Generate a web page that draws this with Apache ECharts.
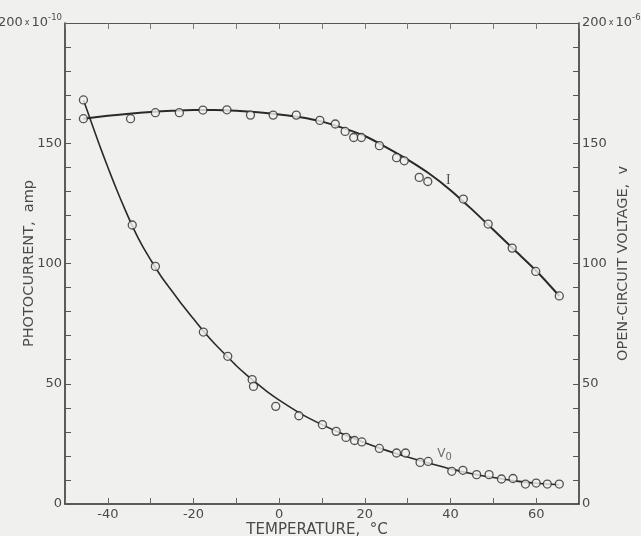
<!DOCTYPE html>
<html>
<head>
<meta charset="utf-8">
<script src="https://cdn.jsdelivr.net/npm/echarts@6/dist/echarts.min.js"></script>
<style>
  html, body { margin: 0; padding: 0; background: #f0f0ef; }
  #chart { width: 641px; height: 536px; }
</style>
</head>
<body>
<div id="chart"></div>
<script>
// measured points, photocurrent I (x10^-10 amp)
const tempI = [-45.7, -34.7, -28.9, -23.3, -17.8, -12.2, -6.7, -1.4, 4.0, 9.5, 13.1, 15.4, 17.4, 19.2, 23.4, 27.4, 29.2, 32.7, 34.7, 43.0, 48.8, 54.4, 59.9, 65.4];
const valI = [160.2, 160.2, 162.7, 162.7, 163.8, 163.9, 161.7, 161.7, 161.7, 159.5, 158.0, 154.9, 152.4, 152.4, 149.0, 144.0, 142.7, 135.8, 134.1, 126.8, 116.4, 106.4, 96.7, 86.5];

// measured points, open-circuit voltage V0 (x10^-6 v)
const tempV = [-45.7, -34.3, -28.9, -17.7, -12.0, -6.3, -6.0, -0.8, 4.6, 10.1, 13.3, 15.6, 17.6, 19.3, 23.4, 27.4, 29.5, 32.9, 34.8, 40.3, 42.9, 46.1, 49.0, 51.9, 54.6, 57.5, 60.0, 62.6, 65.4];
const valV = [168.0, 116.0, 98.8, 71.5, 61.4, 51.7, 48.9, 40.6, 36.7, 33.0, 30.2, 27.7, 26.4, 25.8, 23.1, 21.2, 21.2, 17.3, 17.7, 13.6, 14.0, 12.2, 12.2, 10.4, 10.6, 8.3, 8.7, 8.3, 8.3];

// hand-drawn curves
const curveIx = [-45.7, -40, -35, -30, -25, -20, -15, -10, -5, 0, 5, 10, 15, 20, 25, 30, 35, 40, 45, 50, 55, 60, 65.4];
const curveIy = [160.2, 161.4, 162.3, 163, 163.5, 163.8, 163.8, 163.5, 162.9, 162, 160.8, 159, 156.3, 153, 148.3, 143.2, 137.4, 130.5, 122.5, 114, 105.5, 97, 86.5];
const curveVx = [-45.7, -44, -42, -40, -38, -36, -34, -32, -30, -27.5, -25, -22.5, -20, -17.5, -15, -12.5, -10, -7.5, -5, -2.5, 0, 5, 10, 15, 20, 25, 30, 35, 40, 45, 50, 55, 60, 65.4];
const curveVy = [168, 159.5, 149.5, 140, 131, 122.5, 114.5, 107.5, 101.5, 94.5, 88.5, 82.5, 77, 71.5, 66.5, 62, 57.5, 53.5, 49.8, 46.3, 43.2, 37.6, 33, 29, 25.5, 22.3, 19.5, 17, 14.6, 12.6, 11, 9.6, 8.6, 8];

// where the curve names sit
const labelPos = [[39.5, 134.5], [38.6, 21]];

const zip = (xs, ys) => xs.map((x, i) => [x, ys[i]]);

const bg = '#f0f0ef';
const ink = '#2a2a2a';
const txt = '#4a4a4a';
const font = 'DejaVu Sans';

const chart = echarts.init(document.getElementById('chart'));

const yAxisBase = {
  type: 'value',
  min: 0,
  max: 200,
  interval: 10,
  splitLine: { show: false },
  axisLine: { show: true, onZero: false, lineStyle: { color: ink, width: 1.5 } },
  axisTick: { show: true, inside: true, length: 6, lineStyle: { color: '#555' } },
  nameLocation: 'middle',
  nameMoveOverlap: false,
  nameTextStyle: { color: txt, fontFamily: font, fontSize: 14.5 }
};

function yLabel(exp, align) {
  return {
    color: txt,
    fontFamily: font,
    fontSize: 13,
    margin: 3,
    align: align,
    formatter: v => {
      if (v === 200) return '200{x|x}10{sup|' + exp + '}';
      return v % 50 === 0 ? String(v) : '';
    },
    rich: {
      x: { fontSize: 8, padding: [0, 2, 0, 2], color: txt, align: align },
      sup: { fontSize: 8.5, verticalAlign: 'top', padding: [0, 0, 10, 0], color: txt, align: align }
    }
  };
}

const option = {
  backgroundColor: bg,
  animation: false,
  grid: { left: 65, right: 62, top: 23, bottom: 32, containLabel: false, outerBoundsMode: 'none' },
  xAxis: [
    {
      type: 'value',
      min: -50,
      max: 70,
      interval: 10,
      position: 'bottom',
      name: 'TEMPERATURE,  °C',
      nameLocation: 'middle',
      nameGap: 19,
      nameMoveOverlap: false,
      nameTextStyle: { color: txt, fontFamily: font, fontSize: 15, padding: [0, 10, 0, 0] },
      splitLine: { show: false },
      axisLine: { show: true, onZero: false, lineStyle: { color: ink, width: 1.5 } },
      axisTick: { show: true, inside: true, length: 6, lineStyle: { color: '#666' } },
      axisLabel: {
        color: txt,
        fontFamily: font,
        fontSize: 13,
        margin: 4,
        formatter: v => (v % 20 === 0 ? String(v) : '')
      }
    },
    {
      type: 'value',
      min: -50,
      max: 70,
      interval: 10,
      position: 'top',
      splitLine: { show: false },
      axisLine: { show: true, onZero: false, lineStyle: { color: '#555', width: 1 } },
      axisTick: { show: true, inside: true, length: 6, lineStyle: { color: '#777' } },
      axisLabel: { show: false }
    }
  ],
  yAxis: [
    Object.assign({}, yAxisBase, {
      position: 'left',
      name: 'PHOTOCURRENT,  amp',
      nameGap: 28,
      axisLabel: yLabel('-10', 'right')
    }),
    Object.assign({}, yAxisBase, {
      position: 'right',
      name: 'OPEN-CIRCUIT VOLTAGE,  v',
      nameGap: 37,
      nameRotate: 90,
      axisLabel: yLabel('-6', 'left')
    })
  ],
  series: [
    {
      type: 'line',
      data: zip(curveIx, curveIy),
      smooth: 0.3,
      showSymbol: false,
      lineStyle: { color: ink, width: 2 },
      z: 2
    },
    {
      type: 'line',
      data: zip(curveVx, curveVy),
      smooth: 0.3,
      showSymbol: false,
      lineStyle: { color: ink, width: 1.6 },
      z: 2
    },
    {
      type: 'scatter',
      data: zip(tempI, valI),
      symbol: 'circle',
      symbolSize: 8,
      itemStyle: { color: bg, borderColor: ink, borderWidth: 1.3 },
      z: 3
    },
    {
      type: 'scatter',
      data: zip(tempV, valV),
      symbol: 'circle',
      symbolSize: 8,
      itemStyle: { color: bg, borderColor: ink, borderWidth: 1.3 },
      z: 3
    },
    {
      // curve names
      type: 'scatter',
      symbol: 'circle',
      symbolSize: 2,
      silent: true,
      itemStyle: { color: 'rgba(0,0,0,0)' },
      data: [
        { value: labelPos[0], label: { formatter: 'I', fontFamily: 'Liberation Serif', fontSize: 14, color: ink } },
        { value: labelPos[1], label: { formatter: 'V{sub|0}', fontFamily: font, fontSize: 12, color: txt } }
      ],
      label: {
        show: true,
        position: 'inside',
        align: 'center',
        verticalAlign: 'middle',
        rich: { sub: { fontSize: 10, verticalAlign: 'bottom', padding: [8, 0, 0, 0], color: txt } }
      },
      z: 4
    }
  ]
};

chart.setOption(option);
</script>
</body>
</html>
